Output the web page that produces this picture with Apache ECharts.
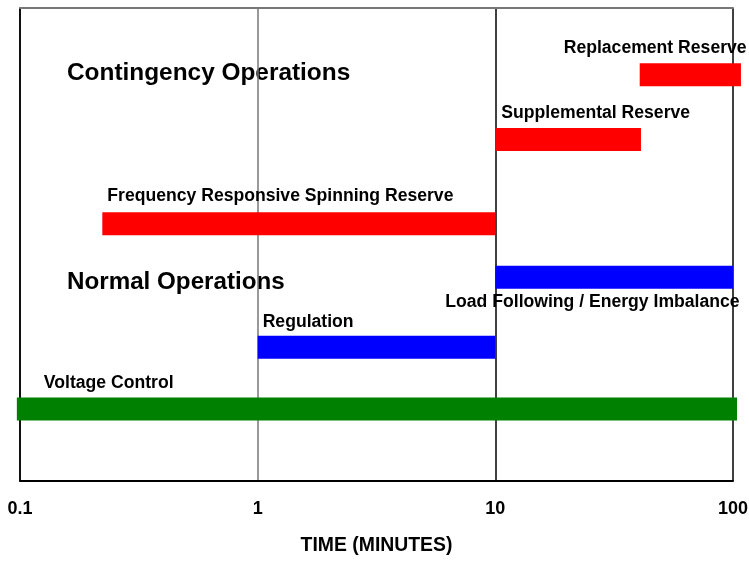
<!DOCTYPE html>
<html>
<head>
<meta charset="utf-8">
<script src="https://cdn.jsdelivr.net/npm/echarts@6/dist/echarts.min.js"></script>
<style>
  html, body { margin: 0; padding: 0; background: #fff; }
  #main { width: 749px; height: 561px; }
</style>
</head>
<body>
<div id="main"></div>
<script>
// services, time spans in minutes (log scale)
var names = ['Replacement Reserve', 'Supplemental Reserve', 'Frequency Responsive Spinning Reserve',
  'Load Following / Energy Imbalance', 'Regulation', 'Voltage Control']
var starts = [40.5, 10, 0.222, 10, 1, 0.097]
var ends = [108, 41, 10, 100, 10, 104]
var levels = [85.9, 72.2, 54.4, 43.1, 28.3, 15.2]
var groups = ['contingency', 'contingency', 'contingency', 'normal', 'normal', 'normal']
var tickLabels = ['0.1', '1', '10', '100']

var barColors = ['#ff0000', '#ff0000', '#ff0000', '#0000ff', '#0000ff', '#008000']
// label offset from bar start / bar centre (px)
var labelDx = [-76, 6, 5, -50, 5, 27]
var labelDy = [-26.5, -26.5, -27.5, 25, -25.5, -26]

var font = '"Liberation Sans", Arial, sans-serif'

var myChart = echarts.init(document.querySelector('#main'))

var data = names.map(function (n, i) {
  return [starts[i], ends[i], levels[i], i]
})

var option = {
  animation: false,
  textStyle: { fontFamily: font },
  grid: { left: 20, right: 16, top: 8, bottom: 80, outerBoundsMode: 'none' },
  xAxis: [{
    type: 'log',
    logBase: 10,
    min: 0.1,
    max: 100,
    name: 'TIME (MINUTES)',
    nameLocation: 'middle',
    nameGap: 55,
    nameTextStyle: { fontSize: 19.4, fontWeight: 'bold', color: '#000', fontFamily: font },
    axisLine: { show: true, lineStyle: { color: '#000', width: 2 } },
    axisTick: { show: false },
    axisLabel: {
      margin: 19,
      fontSize: 18,
      fontWeight: 'bold',
      color: '#000',
      fontFamily: font,
      formatter: function (v, idx) { return tickLabels[idx] }
    },
    splitLine: { show: true, lineStyle: { color: ['#000', '#777', '#000', '#000'], width: 1.5 } }
  }, {
    type: 'log',
    position: 'top',
    min: 0.1,
    max: 100,
    axisLine: { show: true, lineStyle: { color: '#777', width: 2 } },
    axisTick: { show: false },
    axisLabel: { show: false },
    splitLine: { show: false }
  }],
  yAxis: {
    type: 'value',
    min: 0,
    max: 100,
    axisLine: { show: true, lineStyle: { color: '#000', width: 1.5 } },
    axisTick: { show: false },
    axisLabel: { show: false },
    splitLine: { show: false }
  },
  graphic: [
    { type: 'text', left: 67, top: 61, style: { text: 'Contingency Operations', font: 'bold 24.4px ' + font, fill: '#000' } },
    { type: 'text', left: 67, top: 270, style: { text: 'Normal Operations', font: 'bold 24.2px ' + font, fill: '#000' } }
  ],
  series: [{
    type: 'custom',
    clip: false,
    encode: { x: [0, 1], y: 2 },
    data: data,
    renderItem: function (params, api) {
      var i = api.value(3)
      var p0 = api.coord([api.value(0), api.value(2)])
      var p1 = api.coord([api.value(1), api.value(2)])
      var h = 23
      return {
        type: 'group',
        children: [{
          type: 'rect',
          shape: { x: p0[0], y: p0[1] - h / 2, width: p1[0] - p0[0], height: h },
          style: { fill: barColors[i] }
        }, {
          type: 'text',
          x: p0[0] + labelDx[i],
          y: p0[1] + labelDy[i],
          style: {
            text: names[i],
            font: 'bold 17.6px ' + font,
            fill: '#000',
            textAlign: 'left',
            textVerticalAlign: 'middle'
          }
        }]
      }
    }
  }]
}

myChart.setOption(option)
</script>
</body>
</html>
